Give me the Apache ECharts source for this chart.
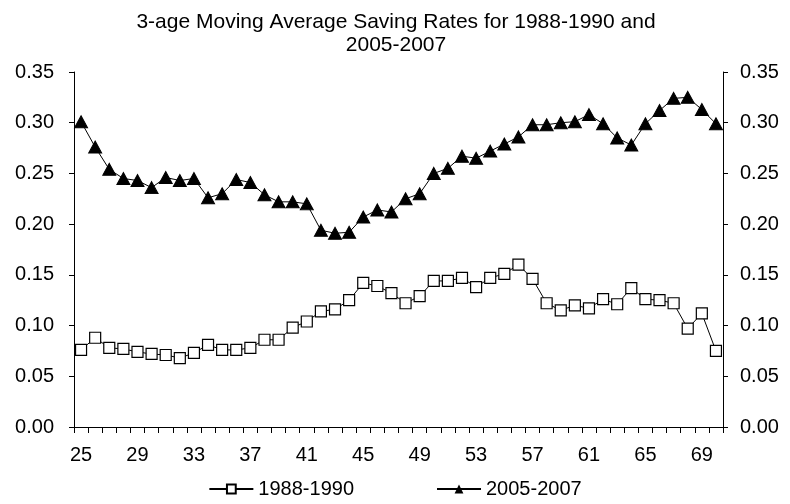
<!DOCTYPE html>
<html lang="en">
<head>
    <meta charset="UTF-8">
    <title>3-age Moving Average Saving Rates</title>
    <script src="https://cdn.jsdelivr.net/npm/echarts@6/dist/echarts.min.js"></script>
    <style>
        body { margin: 0; background: #fff; }
        #chart { width: 790px; height: 504px; }
    </style>
</head>
<body>
<div id="chart"></div>
<script>
    // ages 25..70
    var ages = [];
    for (var a = 25; a <= 70; a++) ages.push(String(a));

    var rates1988 = [0.076, 0.088, 0.078, 0.077, 0.074, 0.072, 0.071, 0.068, 0.073, 0.081,
        0.076, 0.076, 0.078, 0.086, 0.086, 0.098, 0.104, 0.114, 0.116, 0.125,
        0.142, 0.139, 0.132, 0.122, 0.129, 0.144, 0.144, 0.147, 0.138, 0.147,
        0.151, 0.160, 0.146, 0.122, 0.115, 0.120, 0.117, 0.126, 0.121, 0.137,
        0.126, 0.125, 0.122, 0.097, 0.112, 0.075];

    var rates2005 = [0.301, 0.276, 0.254, 0.245, 0.243, 0.236, 0.246, 0.243, 0.245, 0.226,
        0.230, 0.244, 0.241, 0.229, 0.222, 0.222, 0.220, 0.194, 0.191, 0.192,
        0.207, 0.214, 0.212, 0.225, 0.230, 0.250, 0.255, 0.267, 0.265, 0.272,
        0.279, 0.286, 0.298, 0.298, 0.300, 0.301, 0.308, 0.299, 0.285, 0.278,
        0.299, 0.312, 0.324, 0.325, 0.313, 0.299];

    var font = 'Liberation Sans, Arial, sans-serif';

    var chart = echarts.init(document.getElementById('chart'));

    function yAxisDef(pos, margin) {
        return {
            type: 'value',
            position: pos,
            min: 0,
            max: 0.35,
            interval: 0.05,
            axisLine: { show: true, lineStyle: { color: '#000', width: 1 } },
            axisTick: { show: true, length: 5, lineStyle: { color: '#000' } },
            splitLine: { show: false },
            axisLabel: {
                color: '#000',
                fontSize: 20,
                fontFamily: font,
                margin: margin,
                formatter: function (v) { return v.toFixed(2); }
            }
        };
    }

    chart.setOption({
        animation: false,
        title: {
            text: '3-age Moving Average Saving Rates for 1988-1990 and\n2005-2007',
            left: 391,
            textAlign: 'center',
            top: 6,
            textStyle: { fontSize: 21, fontWeight: 'normal', color: '#000', fontFamily: font, lineHeight: 23 }
        },
        grid: { left: 74, right: 67, top: 72, bottom: 77 },
        legend: {
            bottom: 0,
            left: 'center',
            itemGap: 82,
            itemWidth: 44,
            itemHeight: 11,
            textStyle: { fontSize: 20, color: '#000', fontFamily: font },
            data: ['1988-1990', '2005-2007']
        },
        xAxis: {
            type: 'category',
            data: ages,
            boundaryGap: true,
            axisLine: { lineStyle: { color: '#000', width: 1 } },
            axisTick: { show: true, interval: 0, length: 6, lineStyle: { color: '#000' } },
            axisLabel: { interval: 3, color: '#000', fontSize: 20, fontFamily: font, margin: 18 }
        },
        yAxis: [yAxisDef('left', 20), yAxisDef('right', 17)],
        series: [
            {
                name: '1988-1990',
                type: 'line',
                data: rates1988,
                symbol: 'rect',
                symbolSize: 11,
                showAllSymbol: true,
                lineStyle: { color: '#000', width: 1 },
                itemStyle: { color: '#fff', borderColor: '#000', borderWidth: 1.2 }
            },
            {
                name: '2005-2007',
                type: 'line',
                data: rates2005,
                symbol: 'triangle',
                symbolSize: [13, 12],
                showAllSymbol: true,
                lineStyle: { color: '#000', width: 1 },
                itemStyle: { color: '#000', borderColor: '#000' }
            }
        ]
    });
</script>
</body>
</html>
